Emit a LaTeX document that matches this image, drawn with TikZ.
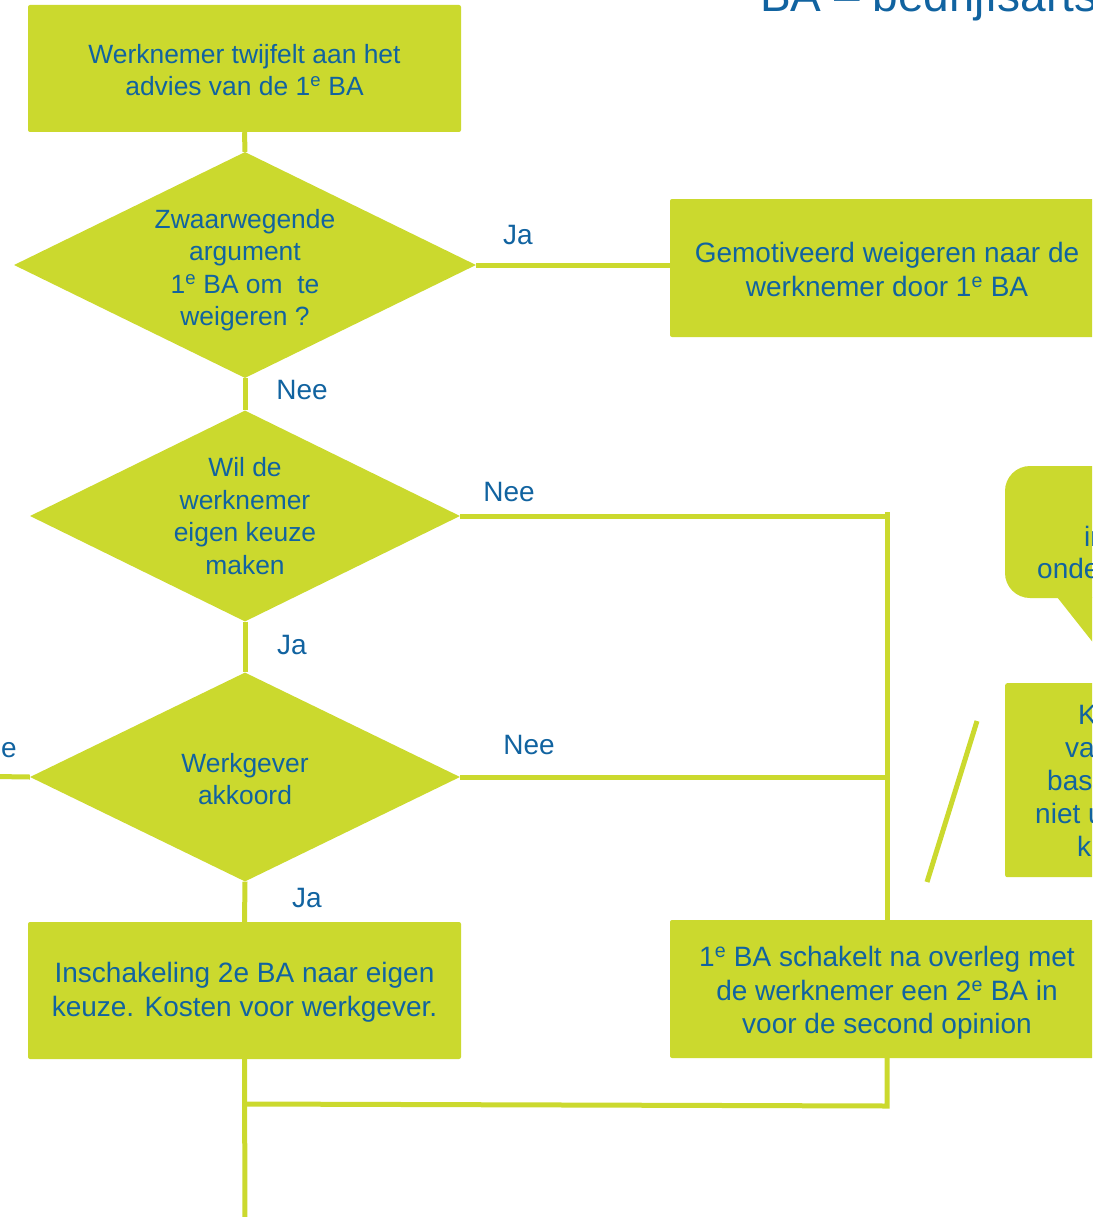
\documentclass[tikz,border=0pt]{standalone}
\usepackage{fontspec}
\setmainfont{Liberation Sans}
\usetikzlibrary{shapes.geometric}
\definecolor{lime}{RGB}{203,217,46}
\definecolor{tblue}{RGB}{17,99,160}
\begin{document}
\begin{tikzpicture}[x=1pt,y=-1pt,
  every node/.style={text=tblue},
  small/.style={font=\fontsize{26.4}{32.5}\selectfont},
  big/.style={font=\fontsize{28}{33.5}\selectfont},
  box/.style={fill=lime, rounded corners=2pt, inner sep=0pt},
  dec/.style={diamond, fill=lime, aspect=2, inner sep=0pt},
  txt/.style={inner sep=0pt, align=center},
  conn/.style={draw=lime, line width=5pt},
  lbl/.style={big, inner sep=0pt},
  frag/.style={big, inner sep=0pt, anchor=base west}]
\useasboundingbox (0,0) rectangle (1092,1217);
\clip (0,0) rectangle (1092,1217);

% title
\node[inner sep=0pt, anchor=base west, font=\fontsize{46}{54}\selectfont] (title) at (760,12) {BA – bedrijfsarts};

% boxes
\node[box, minimum width=433pt, minimum height=127pt] (b1) at (244.5,68.5) {};
\node[box, minimum width=434pt, minimum height=138pt] (b2) at (887,268) {};
\node[box, minimum width=433pt, minimum height=137pt] (b3) at (244.5,990.5) {};
\node[box, minimum width=434pt, minimum height=138pt] (b4) at (887,989) {};

% diamonds
\node[dec, minimum width=462pt, minimum height=226pt] (d1) at (245,265) {};
\node[dec, minimum width=430pt, minimum height=211pt] (d2) at (245,516) {};
\node[dec, minimum width=430pt, minimum height=209pt] (d3) at (245,777) {};

% texts of boxes and diamonds
\node[txt, small] (t1) at (244.5,70) {Werknemer twijfelt aan het\\advies van de 1\textsuperscript{e} BA};
\node[txt, big] (t2) at (887,269.5) {Gemotiveerd weigeren naar de\\werknemer door 1\textsuperscript{e} BA};
\node[txt, big] (t3) at (244.5,992) {Inschakeling 2e BA naar eigen\\keuze. Kosten voor werkgever.};
\node[txt, big] (t4) at (887,993) {1\textsuperscript{e} BA schakelt na overleg met\\de werknemer een 2\textsuperscript{e} BA in\\voor de second opinion};
\node[txt, small] (td1) at (245,270) {Zwaarwegende\\argument\\1\textsuperscript{e} BA om\ \ te\\weigeren ?};
\node[txt, small] (td2) at (245,516) {Wil de\\werknemer\\eigen keuze\\maken};
\node[txt, small] (td3) at (245,779) {Werkgever\\akkoord};

% callout (cut off at right)
\fill[lime, rounded corners=25pt] (1005,466) rectangle (1250,598);
\fill[lime] (1057,597) -- (1125,683) -- (1115,597) -- cycle;
\node[frag] (c1) at (1084,546) {in};
\node[frag] (c2) at (1037,578) {onde};

% right box (cut off)
\node[box, anchor=north west, minimum width=245pt, minimum height=194pt] (kb) at (1005,683) {};
\node[frag] (k1) at (1078,724) {K};
\node[frag] (k2) at (1065,757) {va};
\node[frag] (k3) at (1047,790) {bas};
\node[frag] (k4) at (1035,823) {niet u};
\node[frag] (k5) at (1077,856) {k};

% coordinates
\coordinate (m1) at (887,512);
\coordinate (m2) at (887,1106);
\coordinate (m3) at (245,1104);
\coordinate (bot) at (245,1230);
\coordinate (lft) at (-40,776);
\coordinate (s1) at (977,721);
\coordinate (s2) at (927,882);

% connectors
\draw[conn] (b1.south) -- (d1.north);
\draw[conn] (d1.east) -- (d1.east -| b2.west);
\draw[conn] (d1.south) -- (d2.north);
\draw[conn] (d2.east) -- (d2.east -| m1);
\draw[conn] (m1) -- (b4.north);
\draw[conn] (d2.south) -- (d3.north);
\draw[conn] (d3.east) -- (d3.east -| m1);
\draw[conn] (d3.west) -- (lft);
\draw[conn] (d3.south) -- (b3.north);
\draw[conn] (b4.south) -- (m2) -- (m3);
\draw[conn] (b3.south) -- (bot);
\draw[conn] (s1) -- (s2);

% labels
\node[lbl] (l1) at (518,235) {Ja};
\node[lbl] (l2) at (302,390) {Nee};
\node[lbl] (l3) at (509,492) {Nee};
\node[lbl] (l4) at (292,645) {Ja};
\node[lbl] (l5) at (529,745) {Nee};
\node[lbl] (l6) at (307,898) {Ja};
\node[lbl, anchor=east] (l7) at (17,748) {Nee};
\end{tikzpicture}
\end{document}
